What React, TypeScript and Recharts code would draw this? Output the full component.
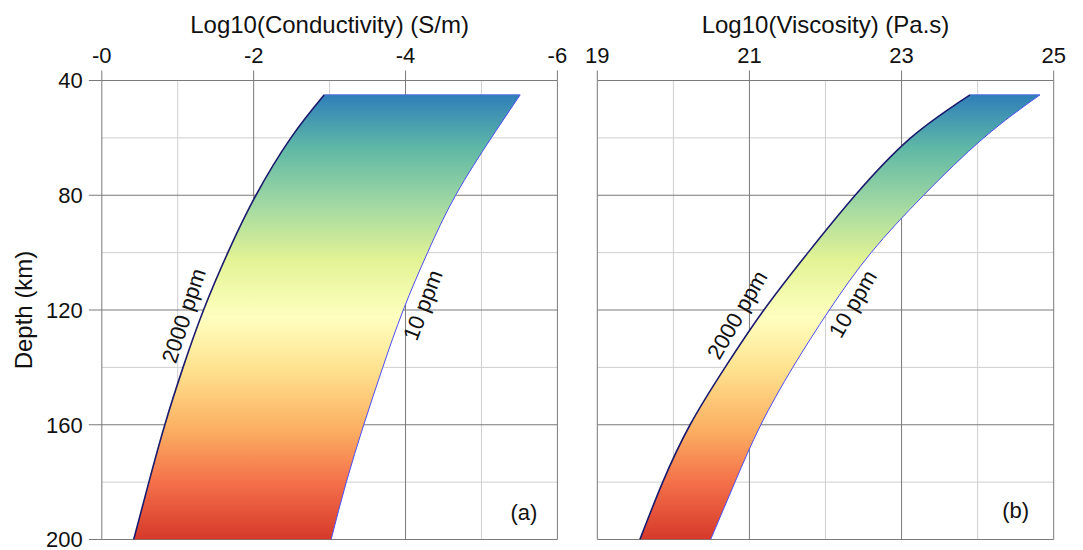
import { ComposedChart, Area, Line, XAxis, YAxis, CartesianGrid, ReferenceLine, ReferenceDot } from 'recharts';

// depth samples (km) and the two bounding curves for each panel
const depths = [45, 60, 80, 100, 120, 140, 160, 180, 200];
const cond2000 = [-2.93, -2.49, -2.03, -1.66, -1.34, -1.07, -0.83, -0.62, -0.42];
const cond10 = [-5.51, -5.13, -4.66, -4.29, -3.97, -3.7, -3.45, -3.22, -3.02];
const visc2000 = [23.9, 23.12, 22.39, 21.77, 21.19, 20.68, 20.22, 19.86, 19.56];
const visc10 = [24.82, 24.08, 23.29, 22.6, 22.05, 21.57, 21.15, 20.81, 20.49];

const depthTicks = [40, 80, 120, 160, 200];
const depthMinor = [60, 100, 140, 180];
const condTicks = [0, -2, -4, -6];
const condMinor = [-1, -3, -5];
const viscTicks = [19, 21, 23, 25];
const viscMinor = [20, 22, 24];

const spectral = [
  ['0%', '#2f7fb9'],
  ['12%', '#5fb8a6'],
  ['25%', '#a3d9a2'],
  ['37%', '#e2f394'],
  ['50%', '#ffffbf'],
  ['62%', '#fee18d'],
  ['75%', '#fcb063'],
  ['87%', '#f4714a'],
  ['100%', '#d6392a'],
];

const FONT = '"Liberation Sans", Arial, sans-serif';
const DEPTH_DOMAIN: [number, number] = [40, 200];

const buildRows = (hi: number[], lo: number[]) =>
  depths.map((d, i) => ({ depth: d, hi: hi[i], lo: lo[i], band: [hi[i], lo[i]] }));

const rotated = (text: string, angle: number) => (props: any) => {
  const { x, y } = props.viewBox;
  return (
    <text x={x} y={y} transform={`rotate(${angle} ${x} ${y})`} textAnchor="middle" dominantBaseline="central" fontSize={22} fill="#111" fontFamily={FONT}>
      {text}
    </text>
  );
};

const tag = (text: string) => (props: any) => {
  const { x, y } = props.viewBox;
  return (
    <text x={x} y={y} textAnchor="middle" dominantBaseline="central" fontSize={22} fill="#111" fontFamily={FONT}>
      {text}
    </text>
  );
};

interface PanelProps {
  id: string;
  width: number;
  margin: { top: number; left: number; right: number; bottom: number };
  hi: number[];
  lo: number[];
  domain: [number, number];
  reversed: boolean;
  ticks: number[];
  minor: number[];
  title: string;
  showDepth: boolean;
  fmt: (v: number) => string;
  notes: { text: string; x: number; y: number; angle: number }[];
  panelTag: { text: string; x: number; y: number };
}

const Panel = (p: PanelProps) => {
  const rows = buildRows(p.hi, p.lo);
  // grid positions follow the same linear mapping as the axes
  const gridX = (vals: number[]) => ({ offset }: any) =>
    vals.map((v) => {
      const t = (v - p.domain[0]) / (p.domain[1] - p.domain[0]);
      return offset.left + (p.reversed ? 1 - t : t) * offset.width;
    });
  const gridY = (vals: number[]) => ({ offset }: any) =>
    vals.map((v) => offset.top + ((v - DEPTH_DOMAIN[0]) / (DEPTH_DOMAIN[1] - DEPTH_DOMAIN[0])) * offset.height);
  return (
    <ComposedChart width={p.width} height={550} data={rows} layout="vertical" margin={p.margin}>
      <defs>
        <linearGradient id={p.id} x1="0" y1="0" x2="0" y2="1">
          {spectral.map(([o, c]) => (
            <stop key={o} offset={o} stopColor={c} />
          ))}
        </linearGradient>
      </defs>
      <CartesianGrid stroke="#cfcfcf" verticalCoordinatesGenerator={gridX(p.minor)} horizontalCoordinatesGenerator={gridY(depthMinor)} />
      <CartesianGrid stroke="#7a7a7a" verticalCoordinatesGenerator={gridX(p.ticks)} horizontalCoordinatesGenerator={gridY(depthTicks)} />
      <XAxis
        type="number"
        orientation="top"
        domain={p.domain}
        reversed={p.reversed}
        allowDataOverflow
        ticks={p.ticks}
        interval={0}
        tickFormatter={p.fmt}
        height={40}
        tickSize={10}
        tickMargin={8}
        axisLine={false}
        tickLine={{ stroke: '#7a7a7a' }}
        tick={{ fill: '#111', fontSize: 22, fontFamily: FONT }}
        label={{ value: p.title, position: 'top', offset: 8, fill: '#111', fontSize: 24, fontFamily: FONT }}
      />
      <YAxis
        type="number"
        dataKey="depth"
        domain={DEPTH_DOMAIN}
        allowDataOverflow
        ticks={depthTicks}
        interval={0}
        hide={!p.showDepth}
        width={60}
        tickSize={13}
        tickMargin={6}
        axisLine={false}
        tickLine={{ stroke: '#7a7a7a' }}
        tick={{ fill: '#111', fontSize: 22, fontFamily: FONT }}
        label={{
          value: 'Depth (km)',
          content: (lp: any) => {
            const vb = lp.viewBox;
            const x = vb.x - 18;
            const y = vb.y + vb.height / 2;
            return (
              <text x={x} y={y} transform={`rotate(-90 ${x} ${y})`} textAnchor="middle" dominantBaseline="central" fontSize={24} fill="#111" fontFamily={FONT}>
                Depth (km)
              </text>
            );
          },
        }}
      />
      <Area dataKey="band" type="natural" fill={`url(#${p.id})`} fillOpacity={1} stroke="none" isAnimationActive={false} />
      <Line dataKey="hi" type="natural" stroke="#1b1b6e" strokeWidth={1.6} dot={false} isAnimationActive={false} />
      <Line dataKey="lo" type="natural" stroke="#4d4df2" strokeWidth={1} dot={false} isAnimationActive={false} />
      <ReferenceLine
        segment={[
          { x: p.hi[0], y: depths[0] },
          { x: p.lo[0], y: depths[0] },
        ]}
        stroke="#4d6fd8"
        strokeWidth={1}
      />
      {p.notes.map((n) => (
        <ReferenceDot key={n.text} x={n.x} y={n.y} r={0} fill="none" stroke="none" label={{ content: rotated(n.text, n.angle) }} />
      ))}
      <ReferenceDot x={p.panelTag.x} y={p.panelTag.y} r={0} fill="none" stroke="none" label={{ content: tag(p.panelTag.text) }} />
    </ComposedChart>
  );
};

export default function App() {
  return (
    <div style={{ position: 'absolute', left: 0, top: 0, width: 1083, height: 550, background: '#fff', fontFamily: FONT, display: 'flex' }}>
      <Panel
        id="bandA"
        width={580}
        margin={{ top: 40.5, left: 41.8, right: 22.6, bottom: 10.5 }}
        hi={cond2000}
        lo={cond10}
        domain={[-6, 0]}
        reversed
        ticks={condTicks}
        minor={condMinor}
        title="Log10(Conductivity) (S/m)"
        showDepth
        fmt={(v) => (v === 0 ? '-0' : String(v))}
        notes={[
          { text: '2000 ppm', x: -1.08, y: 122, angle: -72 },
          { text: '10 ppm', x: -4.23, y: 118.3, angle: -69 },
        ]}
        panelTag={{ text: '(a)', x: -5.56, y: 190.5 }}
      />
      <Panel
        id="bandB"
        width={503}
        margin={{ top: 40.5, left: 17.3, right: 29.3, bottom: 10.5 }}
        hi={visc2000}
        lo={visc10}
        domain={[19, 25]}
        reversed={false}
        ticks={viscTicks}
        minor={viscMinor}
        title="Log10(Viscosity) (Pa.s)"
        showDepth={false}
        fmt={(v) => String(v)}
        notes={[
          { text: '2000 ppm', x: 20.84, y: 121.7, angle: -60 },
          { text: '10 ppm', x: 22.36, y: 117.9, angle: -60 },
        ]}
        panelTag={{ text: '(b)', x: 24.5, y: 190 }}
      />
    </div>
  );
}
